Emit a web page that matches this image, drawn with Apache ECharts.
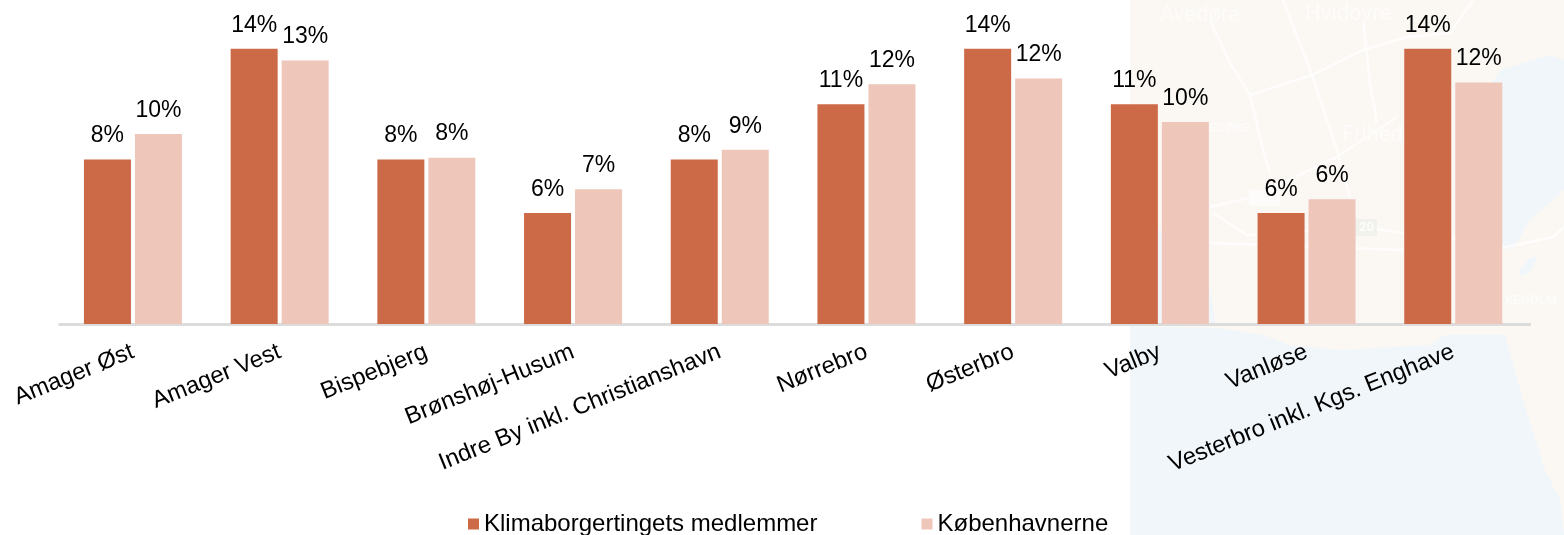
<!DOCTYPE html>
<html>
<head>
<meta charset="utf-8">
<style>
  html, body { margin: 0; padding: 0; background: #fff; }
  #chart { width: 1564px; height: 535px; }
</style>
<script src="https://cdn.jsdelivr.net/npm/echarts@6/dist/echarts.min.js"></script>
</head>
<body>
<div id="chart"></div>
<script>
const categories = ["Amager Øst", "Amager Vest", "Bispebjerg", "Brønshøj-Husum", "Indre By inkl. Christianshavn", "Nørrebro", "Østerbro", "Valby", "Vanløse", "Vesterbro inkl. Kgs. Enghave"];
const seriesNames = ["Klimaborgertingets medlemmer", "Københavnerne"];
const medlemmer = [8.3, 13.9, 8.3, 5.6, 8.3, 11.1, 13.9, 11.1, 5.6, 13.9];
const koebenhavnerne = [9.6, 13.3, 8.4, 6.8, 8.8, 12.1, 12.4, 10.2, 6.3, 12.2];
const colors = ["#cc6947", "#eec6ba"];

const font = "'Liberation Sans', Arial, sans-serif";
const landColor = "#fbf8f4";
const waterColor = "#f0f6fa";

function barSeries(name, values, color) {
  return {
    name: name,
    type: "bar",
    data: values,
    barWidth: 47,
    barGap: "8.5%",
    itemStyle: { color: color },
    label: {
      show: true,
      position: "top",
      distance: 12,
      color: "#000",
      fontFamily: font,
      fontSize: 23,
      formatter: p => Math.round(p.value) + "%"
    }
  };
}

// kortet bag højre del af figuren, kun pynt
function mapShape(points, fill) {
  return { type: "polygon", z: -9, silent: true, shape: { points: points }, style: { fill: fill } };
}
function mapRoad(points) {
  return { type: "polyline", z: -8, silent: true, shape: { points: points }, style: { stroke: "#fff", lineWidth: 2.5, fill: null, opacity: 0.7 } };
}
function mapText(text, x, y, size, weight) {
  return { type: "text", z: -7, silent: true, x: x, y: y, style: { text: text, fill: "#fdfcfa", fontFamily: "Roboto, sans-serif", fontSize: size, fontWeight: weight } };
}

const mapGraphics = [
  { type: "rect", z: -10, silent: true, shape: { x: 1130, y: 0, width: 434, height: 535 }, style: { fill: waterColor } },
  mapShape([[1130, 0], [1564, 0], [1564, 535], [1560, 500], [1545, 470], [1523, 400], [1505, 335], [1445, 335], [1430, 345], [1340, 350], [1290, 345], [1263, 335], [1216, 328], [1130, 326]], landColor),
  mapShape([[1488, 90], [1500, 70], [1550, 55], [1564, 60], [1564, 190], [1530, 220], [1512, 250], [1500, 245], [1488, 230]], waterColor),
  mapShape([[1130, 225], [1160, 230], [1190, 270], [1210, 290], [1216, 326], [1130, 326]], waterColor),
  mapShape([[1518, 272], [1530, 258], [1538, 256], [1532, 270], [1522, 276]], waterColor),
  mapRoad([[1283, 0], [1312, 75], [1337, 150], [1350, 197]]),
  mapRoad([[1250, 95], [1312, 75], [1363, 50], [1407, 37], [1450, 33], [1473, 0]]),
  mapRoad([[1210, 20], [1230, 63], [1250, 95], [1263, 150], [1270, 173]]),
  mapRoad([[1363, 20], [1370, 83], [1377, 123]]),
  mapRoad([[1210, 207], [1253, 197], [1337, 157], [1397, 117]]),
  mapRoad([[1213, 213], [1247, 235], [1363, 227], [1403, 233], [1450, 238], [1507, 247], [1553, 237], [1564, 227]]),
  mapRoad([[1210, 243], [1403, 250]]),
  { type: "rect", z: -7, silent: true, shape: { x: 1249, y: 190, width: 31, height: 16 }, style: { fill: "#fdfcfa" } },
  { type: "rect", z: -7, silent: true, shape: { x: 1355, y: 219, width: 22, height: 17 }, style: { fill: "#f1f2ed" } },
  mapText("Avedøre", 1160, 4, 22, "normal"),
  mapText("Hvidovre", 1305, 3, 22, "normal"),
  mapText("Frihed", 1342, 124, 22, "normal"),
  mapText("EDØRE", 1209, 122, 13, "bold"),
  mapText("KEHOLM", 1505, 294, 13, "bold"),
  mapText("20", 1359, 221, 13, "bold"),
  // aksen er lidt længere end kategorierne
  { type: "rect", z: 3, silent: true, shape: { x: 1526, y: 323, width: 5, height: 3 }, style: { fill: "#dcdcdc" } }
];

let myChart = echarts.init(document.getElementById("chart"));
myChart.setOption({
  animation: false,
  textStyle: { fontFamily: font },
  graphic: mapGraphics,
  legend: {
    left: 463,
    top: 507,
    itemWidth: 11,
    itemHeight: 11,
    itemGap: 104,
    icon: "rect",
    textStyle: { fontFamily: font, fontSize: 24, color: "#000" },
    data: seriesNames
  },
  grid: { left: 59.6, right: 37.4, top: 20, bottom: 211, containLabel: false },
  xAxis: {
    type: "category",
    data: categories,
    axisTick: { show: false },
    axisLine: { lineStyle: { color: "#dcdcdc", width: 3 } },
    axisLabel: {
      interval: 0,
      rotate: 22,
      margin: 27,
      color: "#000",
      fontFamily: font,
      fontSize: 23.8
    }
  },
  yAxis: {
    type: "value",
    min: 0,
    max: 15.35,
    show: false,
    splitLine: { show: false }
  },
  series: [
    barSeries(seriesNames[0], medlemmer, colors[0]),
    barSeries(seriesNames[1], koebenhavnerne, colors[1])
  ]
});
</script>
</body>
</html>
